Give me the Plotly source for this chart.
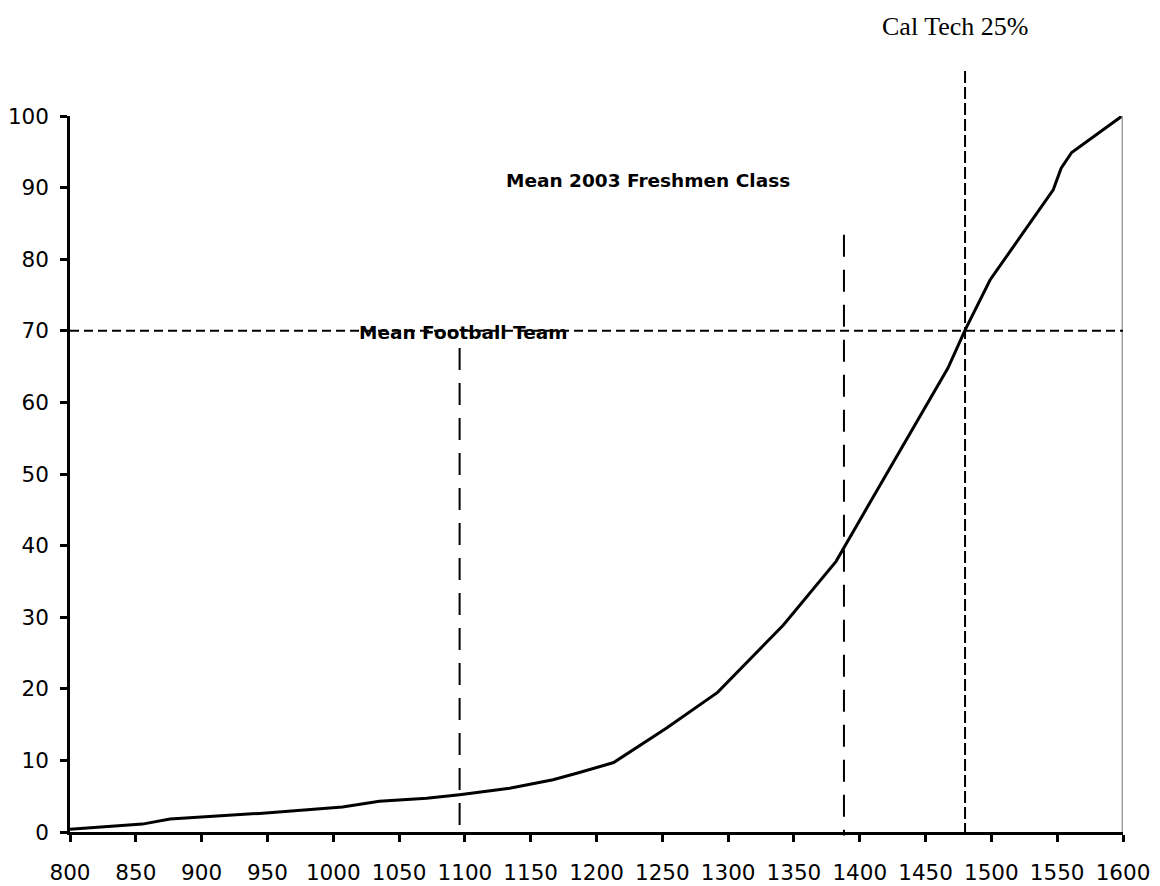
import plotly.graph_objects as go

# Cumulative curve (score vs percentile)
scores = [800, 855, 876, 944, 1007, 1035, 1071, 1096, 1134, 1167, 1187, 1213,
          1253, 1292, 1342, 1358, 1382, 1403, 1423, 1467, 1480, 1499, 1547,
          1553, 1561, 1600]
percent = [0.4, 1.1, 1.8, 2.6, 3.5, 4.3, 4.7, 5.2, 6.1, 7.3, 8.3, 9.7,
           14.5, 19.5, 28.9, 32.4, 37.8, 44.5, 50.8, 64.8, 70.1, 77.1, 89.7,
           92.7, 94.9, 100.1]

# Reference lines
ref_level = 70
football_x, football_top = 1096, 67.6
freshmen_x, freshmen_top = 1388, 83.4
caltech_x, caltech_top = 1480, 106.3

x_ticks = list(range(800, 1601, 50))
y_ticks = list(range(0, 101, 10))
y_max = 100

fig = go.Figure()
fig.add_trace(go.Scatter(x=scores, y=percent, mode="lines",
                         line=dict(color="black", width=3), showlegend=False,
                         hoverinfo="skip"))

shapes = []
# gray right line
shapes.append(dict(type="line", xref="x", yref="y", x0=1600, x1=1600,
                   y0=0, y1=percent[-1], line=dict(color="#a0a0a0", width=3)))
# horizontal 70 line
shapes.append(dict(type="line", xref="x", yref="y", x0=800, x1=1600,
                   y0=ref_level, y1=ref_level,
                   line=dict(color="black", width=2, dash="9px,5px")))
# vertical lines (paper y so they can extend past the plot area)
for xv, top, dash in [(football_x, football_top, "22px,13px"),
                      (freshmen_x, freshmen_top, "22px,13px"),
                      (caltech_x, caltech_top, "12px,4px")]:
    shapes.append(dict(type="line", xref="x", yref="paper", x0=xv, x1=xv,
                       y0=top / y_max, y1=-0.005,
                       line=dict(color="black", width=2, dash=dash)))

annotations = [
    dict(x=1099, y=69.7, xref="x", yref="y", text="<b>Mean Football Team</b>",
         showarrow=False, xanchor="center", yanchor="middle",
         font=dict(family="DejaVu Sans", size=18.5, color="black")),
    dict(x=1239, y=91, xref="x", yref="y", text="<b>Mean 2003 Freshmen Class</b>",
         showarrow=False, xanchor="center", yanchor="middle",
         font=dict(family="DejaVu Sans", size=18.5, color="black")),
    dict(x=1472, y=112.5 / y_max, xref="x", yref="paper", text="Cal Tech 25%",
         showarrow=False, xanchor="center", yanchor="middle",
         font=dict(family="Liberation Serif", size=26, color="black")),
]

axis_common = dict(showline=True, linecolor="black", linewidth=2.5,
                   ticks="outside", ticklen=7, tickwidth=2.5, tickcolor="black",
                   showgrid=False, zeroline=False,
                   tickfont=dict(family="DejaVu Sans", size=21.5, color="black"))

fig.update_layout(
    width=1160, height=886,
    margin=dict(l=62, r=45, t=108, b=62, autoexpand=False),
    plot_bgcolor="white", paper_bgcolor="white",
    shapes=shapes, annotations=annotations,
    xaxis=dict(range=[800, 1600], tickvals=x_ticks, ticklabelstandoff=12,
               **axis_common),
    yaxis=dict(range=[0, y_max], tickvals=y_ticks, ticklabelstandoff=7,
               **axis_common),
)

fig.write_html("out.html")
